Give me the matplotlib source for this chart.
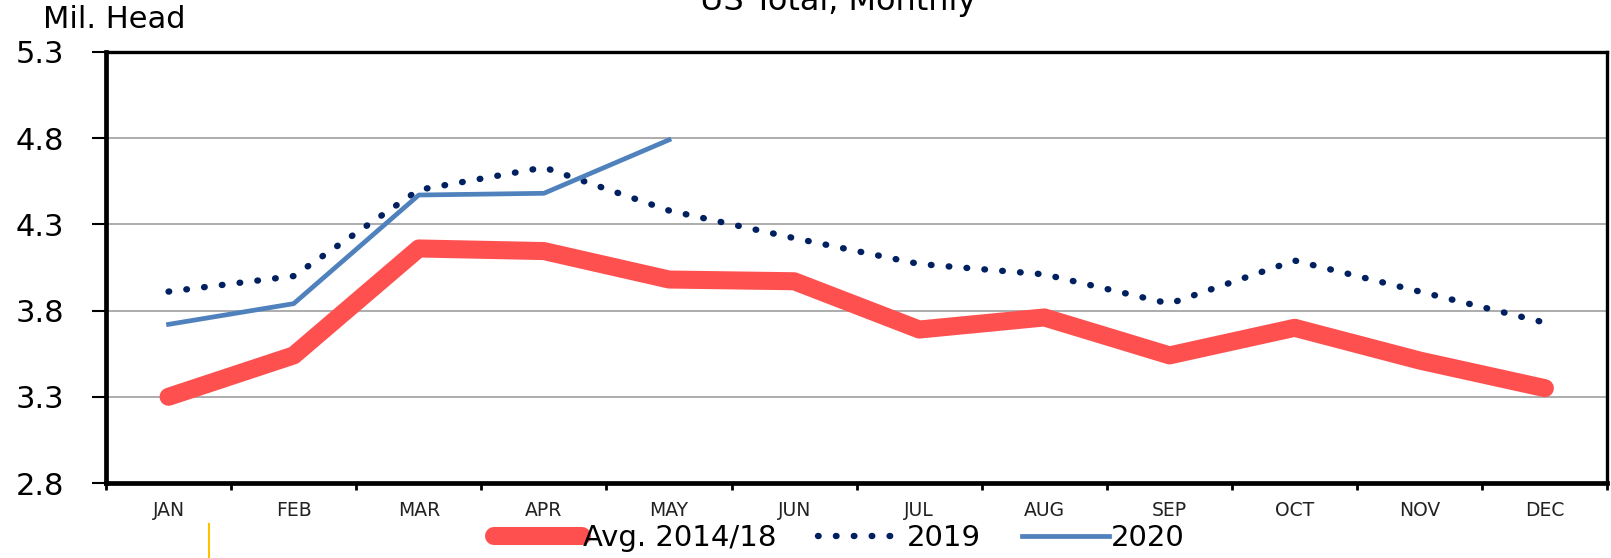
import matplotlib.pyplot as plt
from matplotlib.lines import Line2D
import numpy as np

months = ["JAN", "FEB", "MAR", "APR", "MAY", "JUN",
          "JUL", "AUG", "SEP", "OCT", "NOV", "DEC"]
avg_2014_18 = [3.30, 3.54, 4.16, 4.145, 3.98, 3.97, 3.69, 3.76, 3.54, 3.70, 3.51, 3.35]
y2019 = [3.91, 4.00, 4.50, 4.63, 4.38, 4.22, 4.07, 4.01, 3.84, 4.09, 3.91, 3.73]
y2020 = [3.72, 3.84, 4.47, 4.48, 4.79]
yticks = [2.8, 3.3, 3.8, 4.3, 4.8, 5.3]

plt.rcParams['font.family'] = ['DejaVu Sans']

fig = plt.figure(figsize=(16.11, 5.58), dpi=100)
ax = fig.add_axes([0.0658, 0.1344, 0.932, 0.7726])

x = np.arange(len(months))
ax.plot(x, avg_2014_18, color='#FF5050', lw=13, solid_capstyle='round',
        solid_joinstyle='round', label='Avg. 2014/18', zorder=3)
ax.plot(x, y2019, color='#002060', lw=4.6, linestyle=(0, (0.1, 2.7)),
        dash_capstyle='round', label='2019', zorder=4)
ax.plot(x[:len(y2020)], y2020, color='#4F81BD', lw=3.4, label='2020', zorder=5)

ax.set_xlim(-0.5, 11.5)
ax.set_ylim(2.8, 5.3)
ax.set_yticks(yticks)
ax.set_yticklabels([f"{v:.1f}" for v in yticks], fontsize=22)
ax.yaxis.grid(True, color='#A6A6A6', lw=1.3)
ax.set_axisbelow(True)

ax.set_xticks(x)
ax.set_xticklabels(months, fontsize=13.5, color='#222222')
ax.set_xticks(np.arange(-0.5, 12, 1), minor=True)
ax.tick_params(axis='x', which='major', length=0, pad=13)
ax.tick_params(axis='x', which='minor', length=5, width=2, direction='out')
ax.tick_params(axis='y', length=10, width=1.5, direction='out', pad=20)

for side in ['left', 'bottom']:
    ax.spines[side].set_linewidth(3.4)
for side in ['top', 'right']:
    ax.spines[side].set_linewidth(2.4)

fig.text(0.071, 0.965, "Mil. Head", fontsize=22, ha='center', va='center')
fig.text(0.52, 0.982, "US Total, Monthly", fontsize=23, ha='center', va='baseline')

fig.legend(loc='center', bbox_to_anchor=(0.521, 0.036), ncol=3, frameon=False,
           fontsize=21, handlelength=3.0, handletextpad=0.05, columnspacing=1.4)

fig.add_artist(Line2D([209 / 1611, 209 / 1611], [0.0, 34 / 558], color='#FFC000', lw=1.5))

fig.savefig("out.png", dpi=100)
